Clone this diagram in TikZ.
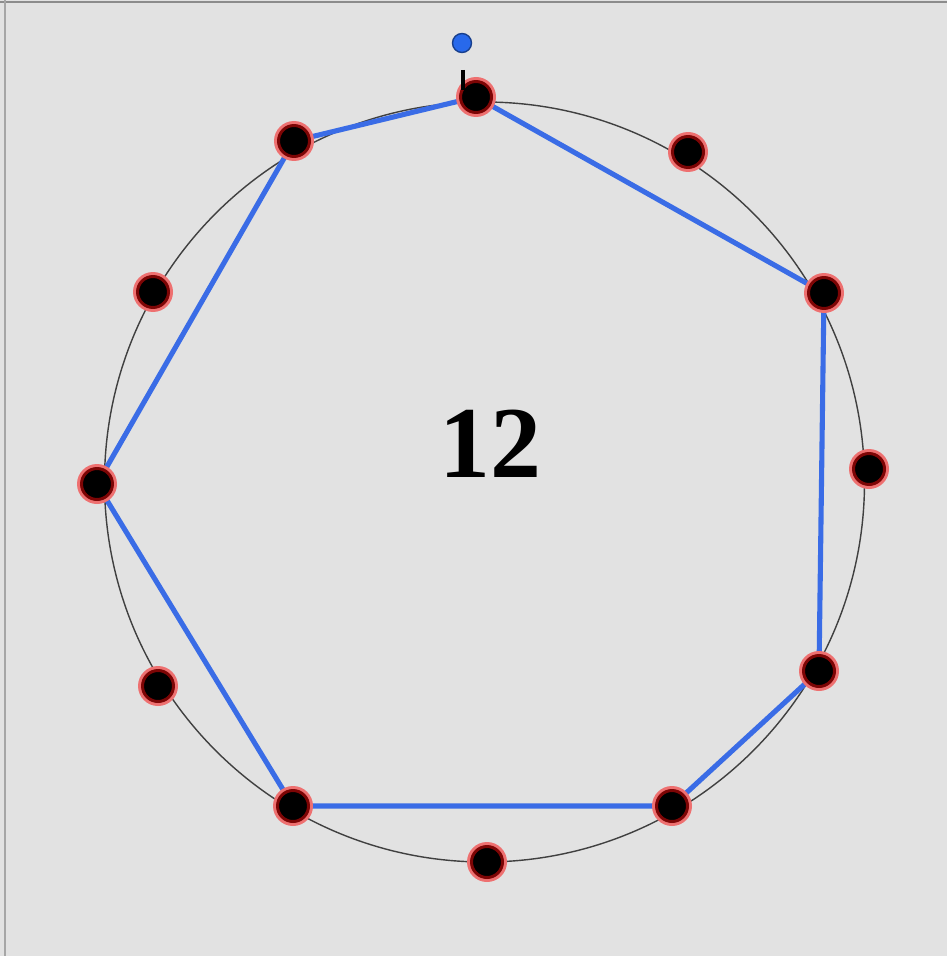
\documentclass[tikz,border=0pt]{standalone}
\usepackage{fontspec}
\setmainfont{Liberation Serif}
\usepackage{tikz}
\usetikzlibrary{backgrounds}
\definecolor{bggray}{RGB}{226,226,226}
\definecolor{polyblue}{RGB}{58,108,230}
\definecolor{ringred}{RGB}{125,5,5}
\definecolor{halored}{RGB}{238,112,112}
\definecolor{handleblue}{RGB}{40,105,235}

\begin{document}
\begin{tikzpicture}[
    x=0.02cm, y=-0.02cm,
    dot/.style={circle, fill=black, draw=ringred, line width=1.7pt, minimum size=0.62cm, inner sep=0pt,
        preaction={draw=halored, line width=5.1pt}},
    edge/.style={draw=polyblue, line width=2.9pt, line join=round},
    ring/.style={draw=black!75, line width=0.8pt},
    every node/.style={font=\bfseries}
]
\useasboundingbox (0,0) rectangle (947,956);
% the twelve points
\node[dot] (p0) at (476,97) {};
\node[dot] (p1) at (688,152) {};
\node[dot] (p2) at (824,293) {};
\node[dot] (p3) at (869,469) {};
\node[dot] (p4) at (819,671) {};
\node[dot] (p5) at (672,806) {};
\node[dot] (p6) at (487,862) {};
\node[dot] (p7) at (293,806) {};
\node[dot] (p8) at (158,686) {};
\node[dot] (p9) at (97,484) {};
\node[dot] (p10) at (153,292) {};
\node[dot] (p11) at (294,141) {};
\node[font=\fontsize{58}{60}\selectfont\bfseries] (count) at (490,444) {12};
% handle above the top point
\node[circle, fill=handleblue, draw=handleblue!60!black, line width=0.8pt, minimum size=0.38cm, inner sep=0pt] (handle) at (462,43) {};
\coordinate (stubtop) at (463,70);
\coordinate (stubbot) at (463,90);
\draw[line width=2.3pt] (stubtop) -- (stubbot);
\begin{scope}[on background layer]
    \fill[bggray] (0,0) rectangle (947,956);
    \draw[black!45, line width=1pt] (0,2) -- (947,2);
    \draw[black!35, line width=1pt] (5,0) -- (5,956);
    \coordinate (ctr) at (484.5,482);
    \draw[ring] (ctr) circle[radius=380];
    \draw[edge] (p0.center) -- (p2.center) -- (p4.center) -- (p5.center) -- (p7.center)
        -- (p9.center) -- (p11.center) -- cycle;
\end{scope}
\end{tikzpicture}
\end{document}
